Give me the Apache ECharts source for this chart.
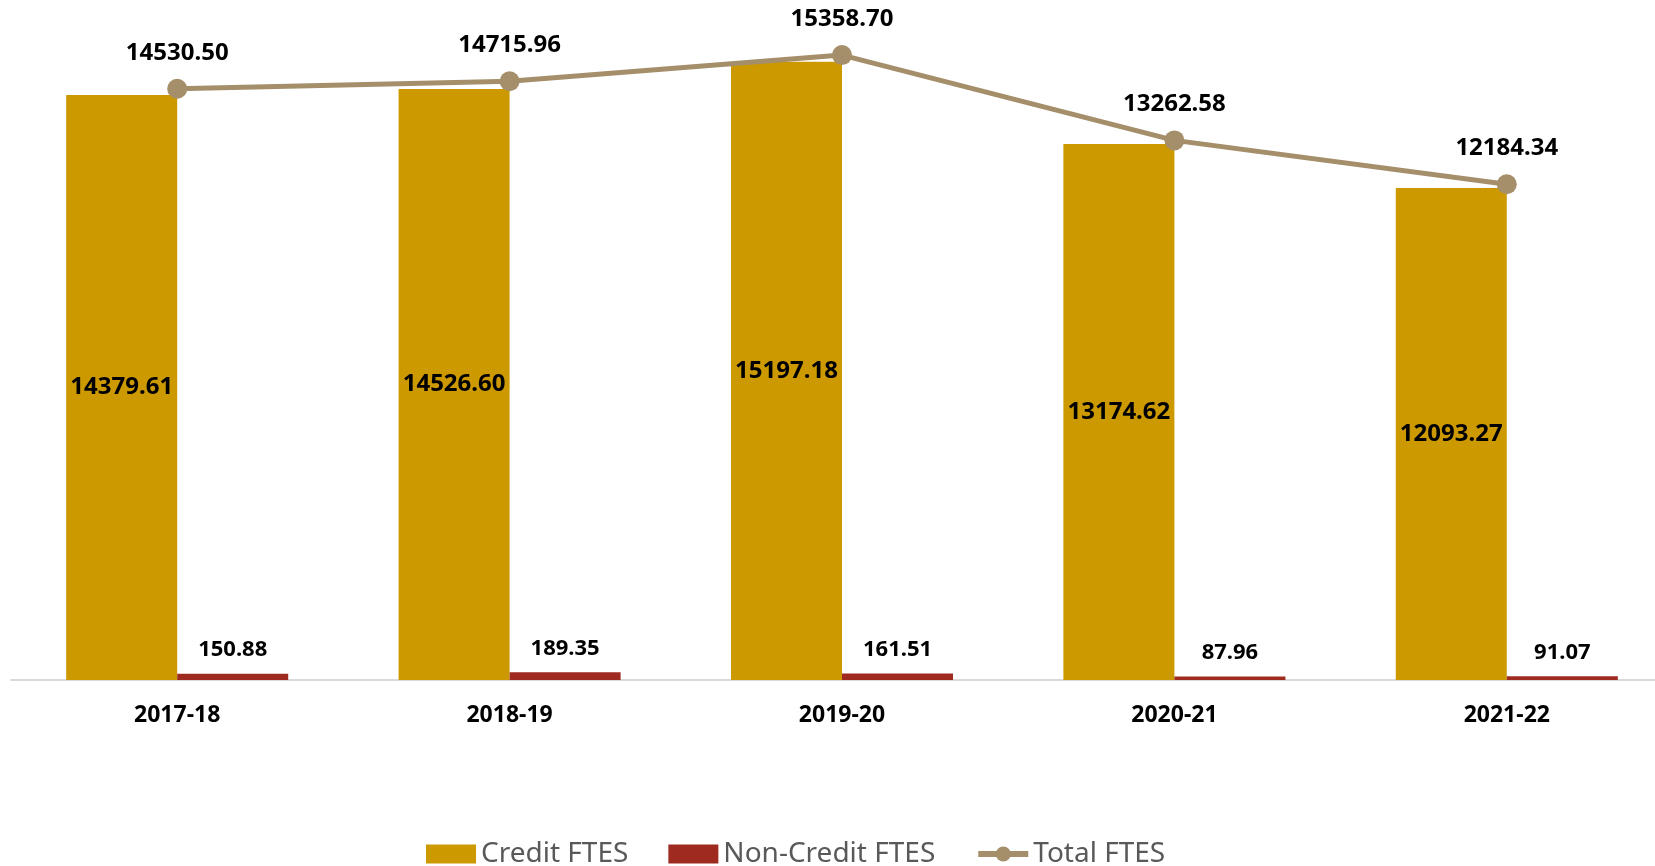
<!DOCTYPE html>
<html>
<head>
<meta charset="utf-8">
<script src="https://cdn.jsdelivr.net/npm/echarts@6/dist/echarts.min.js"></script>
<style>
  html, body { margin:0; padding:0; background:#fff; overflow:hidden; }
  #chart { width:1700px; height:866px; }
</style>
</head>
<body>
<div id="chart"></div>
<script>
var years = ['2017-18', '2018-19', '2019-20', '2020-21', '2021-22'];
var creditFtes = [14379.61, 14526.60, 15197.18, 13174.62, 12093.27];
var nonCreditFtes = [150.88, 189.35, 161.51, 87.96, 91.07];
var totalFtes = [14530.50, 14715.96, 15358.70, 13262.58, 12184.34];

var fontFam = '"Noto Sans", sans-serif';

// chart div is a bit wider than the window: the source chart is cut on the right
echarts.init(document.getElementById('chart')).setOption({
    animation: false,
    grid: {
        left: 11,
        top: 29,
        width: 1662,
        bottom: 186
    },
    legend: {
        left: 421,
        top: 835,
        itemWidth: 50,
        itemHeight: 19,
        itemGap: 40,
        textStyle: { color: '#595959', fontSize: 28, fontFamily: fontFam },
        data: [
            { name: 'Credit FTES', icon: 'rect' },
            { name: 'Non-Credit FTES', icon: 'rect' },
            { name: 'Total FTES', lineStyle: { width: 6 } }
        ]
    },
    xAxis: {
        type: 'category',
        data: years,
        axisLine: { lineStyle: { color: '#d9d9d9', width: 2 } },
        axisTick: { show: false },
        axisLabel: {
            margin: 24,
            color: '#000',
            fontWeight: 'bold',
            fontSize: 23,
            fontFamily: fontFam
        }
    },
    yAxis: {
        type: 'value',
        min: 0,
        max: 16000,
        show: false,
        splitLine: { show: false }
    },
    series: [
        {
            name: 'Credit FTES',
            type: 'bar',
            data: creditFtes,
            barGap: '0%',
            barCategoryGap: '33.2%',
            itemStyle: { color: '#cc9900' },
            label: {
                show: true,
                position: 'inside',
                color: '#000',
                fontWeight: 'bold',
                fontSize: 24,
                fontFamily: fontFam,
                formatter: function (p) { return p.value.toFixed(2); }
            }
        },
        {
            name: 'Non-Credit FTES',
            type: 'bar',
            data: nonCreditFtes,
            itemStyle: { color: '#9e2a20' },
            label: {
                show: true,
                position: 'top',
                distance: 13,
                color: '#000',
                fontWeight: 'bold',
                fontSize: 22,
                fontFamily: fontFam,
                formatter: function (p) { return p.value.toFixed(2); }
            }
        },
        {
            name: 'Total FTES',
            type: 'line',
            data: totalFtes,
            symbol: 'circle',
            symbolSize: 20,
            lineStyle: { color: '#a58f6a', width: 5 },
            itemStyle: { color: '#a58f6a' },
            label: {
                show: true,
                position: 'top',
                distance: 14,
                color: '#000',
                fontWeight: 'bold',
                fontSize: 24,
                fontFamily: fontFam,
                formatter: function (p) { return p.value.toFixed(2); }
            }
        }
    ]
});
</script>
</body>
</html>
